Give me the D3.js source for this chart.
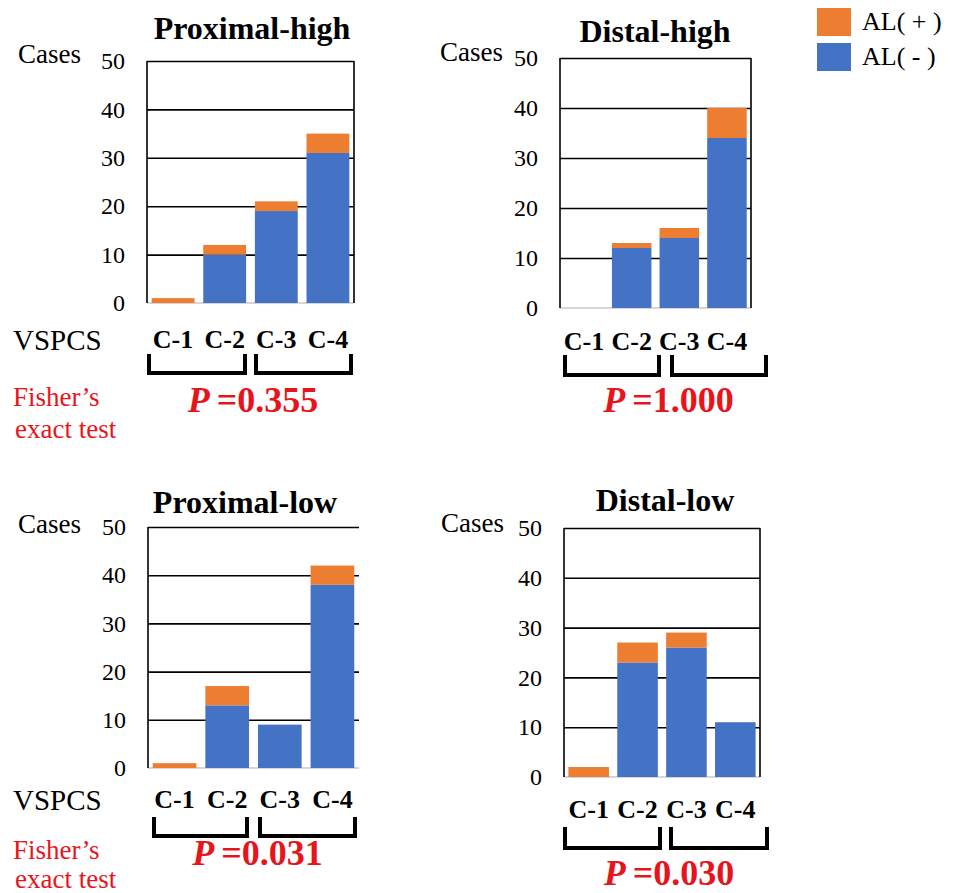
<!DOCTYPE html>
<html>
<head>
<meta charset="utf-8">
<script src="https://cdn.jsdelivr.net/npm/d3@7"></script>
<style>
  body { margin: 0; background: #fff; }
  svg text { font-family: "Liberation Serif", Tinos, "Times New Roman", Times, "DejaVu Serif", serif; }
</style>
</head>
<body>
<div id="chart"></div>
<script>
// chart values
var categories = ["C-1", "C-2", "C-3", "C-4"];
var panelTitles = ["Proximal-high", "Distal-high", "Proximal-low", "Distal-low"];
var alMinus = [[0, 10, 19, 31], [0, 12, 14, 34], [0, 13, 9, 38], [0, 23, 26, 11]];
var alPlus = [[1, 2, 2, 4], [0, 1, 2, 6], [1, 4, 0, 4], [2, 4, 3, 0]];
var pValues = ["0.355", "1.000", "0.031", "0.030"];
var yTicks = [0, 10, 20, 30, 40, 50];
var legendLabels = ["AL( + )", "AL( - )"];

var orange = "#ED7D31", blue = "#4472C4", red = "#E8141B";

// where each panel sits on the page
var layout = [
  {x0: 147, x1: 354, top: 61, bottom: 303, titleX: 252, titleY: 39, casesX: 18, casesY: 63,
   catY: 348, brY0: 354, brY1: 375, brL: [147, 247], brR: [254, 353], pY: 412, rightBorder: true, vspcs: true},
  {x0: 560, x1: 751, top: 58, bottom: 308, titleX: 655, titleY: 42, casesX: 440, casesY: 61,
   catY: 350, brY0: 355, brY1: 377, brL: [563, 661], brR: [670, 768], pY: 412, rightBorder: true, vspcs: false},
  {x0: 148, x1: 359, top: 527, bottom: 768, titleX: 245, titleY: 513, casesX: 18, casesY: 533,
   catY: 808, brY0: 817, brY1: 838, brL: [152, 249], brR: [258, 357], pY: 865, rightBorder: false, vspcs: true},
  {x0: 564, x1: 760, top: 528, bottom: 777, titleX: 665, titleY: 511, casesX: 441, casesY: 532,
   catY: 818, brY0: 827, brY1: 850, brL: [563, 662], brR: [669, 769], pY: 885, rightBorder: true, vspcs: false}
];

var svg = d3.select("#chart")
  .append("svg")
  .attr("width", 958)
  .attr("height", 893);

panelTitles.forEach(function (title, i) {
  var L = layout[i];
  var g = svg.append("g").attr("class", "panel");

  var x = d3.scaleBand()
    .domain(categories)
    .range([L.x0, L.x1])
    .paddingInner(0.17)
    .paddingOuter(0.09);

  var y = d3.scaleLinear()
    .domain([0, 50])
    .range([L.bottom, L.top]);

  // gridlines
  g.append("g")
    .attr("transform", "translate(" + L.x0 + ",0)")
    .call(d3.axisLeft(y).tickValues(yTicks.slice(1)).tickSize(-(L.x1 - L.x0)).tickFormat(""))
    .call(function (a) {
      a.select(".domain").remove();
      a.selectAll("line").attr("stroke", "#000").attr("stroke-width", 1.6);
    });

  // baseline (light grey)
  g.append("line")
    .attr("x1", L.x0).attr("x2", L.x1)
    .attr("y1", y(0)).attr("y2", y(0))
    .attr("stroke", "#c8c8c8").attr("stroke-width", 1.5);

  // frame
  g.append("line")
    .attr("x1", L.x0).attr("x2", L.x0)
    .attr("y1", y(50)).attr("y2", y(0))
    .attr("stroke", "#000").attr("stroke-width", 1.6);
  if (L.rightBorder) {
    g.append("line")
      .attr("x1", L.x1).attr("x2", L.x1)
      .attr("y1", y(50)).attr("y2", y(0))
      .attr("stroke", "#000").attr("stroke-width", 1.6);
  }

  // tick labels
  g.append("g")
    .attr("transform", "translate(" + L.x0 + ",0)")
    .call(d3.axisLeft(y).tickValues(yTicks).tickSize(0).tickPadding(22))
    .call(function (a) {
      a.select(".domain").remove();
      a.attr("font-family", null);
      a.selectAll("text")
        .attr("font-size", 24)
        .attr("fill", "#000");
    });

  // stacked bars
  var stackData = categories.map(function (c, k) {
    return {cat: c, minus: alMinus[i][k], plus: alPlus[i][k]};
  });
  var series = d3.stack().keys(["minus", "plus"])(stackData);
  var colors = {minus: blue, plus: orange};

  g.selectAll("g.series")
    .data(series)
    .enter()
    .append("g")
    .attr("class", "series")
    .attr("fill", function (s) { return colors[s.key]; })
    .selectAll("rect")
    .data(function (s) { return s.filter(function (d) { return d[1] > d[0]; }); })
    .enter()
    .append("rect")
    .attr("x", function (d) { return x(d.data.cat); })
    .attr("width", x.bandwidth())
    .attr("y", function (d) { return y(d[1]); })
    .attr("height", function (d) { return y(d[0]) - y(d[1]); });

  // title
  g.append("text")
    .attr("x", L.titleX).attr("y", L.titleY)
    .attr("text-anchor", "middle")
    .attr("font-size", 32)
    .attr("font-weight", "bold")
    .text(title);

  g.append("text")
    .attr("x", L.casesX).attr("y", L.casesY)
    .attr("font-size", 27)
    .text("Cases");

  // category labels
  g.selectAll("text.cat")
    .data(categories)
    .enter()
    .append("text")
    .attr("class", "cat")
    .attr("x", function (d) { return x(d) + x.bandwidth() / 2; })
    .attr("y", L.catY)
    .attr("text-anchor", "middle")
    .attr("font-size", 26)
    .attr("font-weight", "bold")
    .text(function (d) { return d; });

  // brackets
  [L.brL, L.brR].forEach(function (b) {
    g.append("path")
      .attr("d", "M" + (b[0] + 2) + "," + L.brY0 + "V" + (L.brY1 - 2) + "H" + (b[1] - 2) + "V" + L.brY0)
      .attr("fill", "none")
      .attr("stroke", "#000")
      .attr("stroke-width", 4);
  });

  // p value
  var pt = g.append("text")
    .attr("x", (L.brL[0] + L.brR[1]) / 2 + 3)
    .attr("y", L.pY)
    .attr("text-anchor", "middle")
    .attr("font-size", 36)
    .attr("font-weight", "bold")
    .attr("fill", red);
  pt.append("tspan").attr("font-style", "italic").text("P");
  pt.append("tspan").text("\u2009=" + pValues[i]);

  if (L.vspcs) {
    g.append("text")
      .attr("x", 13).attr("y", L.catY + 2)
      .attr("font-size", 29)
      .text("VSPCS");
    g.append("text")
      .attr("x", 13).attr("y", L.pY - 6)
      .attr("font-size", 27)
      .attr("fill", red)
      .text("Fisher\u2019s");
    g.append("text")
      .attr("x", 15).attr("y", Math.min(L.pY + 26, 888))
      .attr("font-size", 27)
      .attr("fill", red)
      .text("exact test");
  }
});

// legend
var legend = svg.append("g").attr("class", "legend");
legend.selectAll("rect")
  .data(legendLabels)
  .enter()
  .append("rect")
  .attr("x", 817)
  .attr("y", function (d, k) { return 8 + k * 35; })
  .attr("width", 34)
  .attr("height", 28)
  .attr("fill", function (d, k) { return k === 0 ? orange : blue; });
legend.selectAll("text")
  .data(legendLabels)
  .enter()
  .append("text")
  .attr("x", 862)
  .attr("y", function (d, k) { return 30 + k * 35; })
  .attr("font-size", 26)
  .text(function (d) { return d; });
</script>
</body>
</html>
